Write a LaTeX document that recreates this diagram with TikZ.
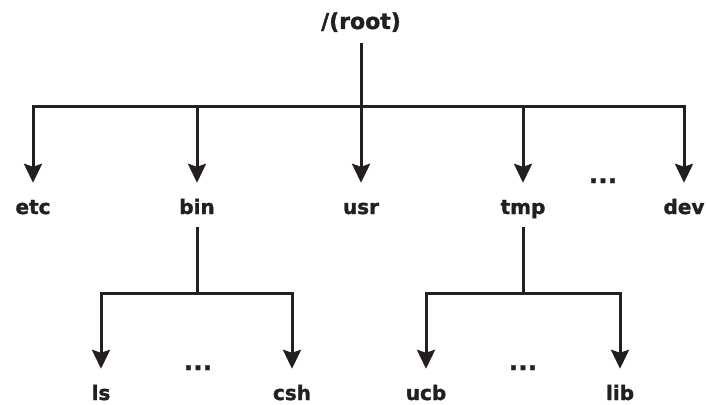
\documentclass[tikz,border=0pt]{standalone}
\usepackage{fontspec}
\setmainfont{DejaVu Sans}[BoldFeatures={FakeBold=1.5}]
\usetikzlibrary{arrows.meta}
\definecolor{ink}{HTML}{231F20}
\begin{document}
\begin{tikzpicture}[x=1pt,y=-1pt,
    dir/.style={font=\bfseries\fontsize{20}{24}\selectfont,text=ink,inner sep=0pt,
      text height=15pt,text depth=4pt,anchor=base},
    more/.style={dir,font=\bfseries\fontsize{25}{28}\selectfont},
    trunk/.style={draw=ink,line width=3pt},
    branch/.style={trunk,-{Stealth[length=19pt,width=18pt,inset=3pt]},shorten >=16pt}]
  \useasboundingbox (0,0) rectangle (706,404);

  \node[dir,font=\bfseries\fontsize{22}{26}\selectfont] (root) at (361,29){/(root)};
  \node[dir] (etc) at (33,214){etc};
  \node[dir] (bin) at (197,214){bin};
  \node[dir] (usr) at (361,214){usr};
  \node[dir] (tmp) at (523,214){tmp};
  \node[dir] (dev) at (684,214){dev};
  \node[more] (more) at (603,183){...};

  \node[dir] (ls) at (101,400){ls};
  \node[dir] (csh) at (292,400){csh};
  \node[more] (more-bin) at (198,370){...};
  \node[dir] (ucb) at (426,400){ucb};
  \node[dir] (lib) at (620,400){lib};
  \node[more] (more-tmp) at (523,370){...};

  \coordinate (hub) at (361,106);
  \coordinate (hub-bin) at (197,293);
  \coordinate (hub-tmp) at (523,293);

  \draw[trunk,shorten <=10pt] (root) -- (hub);
  \foreach \d in {etc,bin,usr,tmp,dev}
    \draw[branch] (hub) -| (\d);

  \draw[trunk,shorten <=9pt] (bin) -- (hub-bin);
  \draw[branch] (hub-bin) -| (ls);
  \draw[branch] (hub-bin) -| (csh);

  \draw[trunk,shorten <=9pt] (tmp) -- (hub-tmp);
  \draw[branch] (hub-tmp) -| (ucb);
  \draw[branch] (hub-tmp) -| (lib);
\end{tikzpicture}
\end{document}
